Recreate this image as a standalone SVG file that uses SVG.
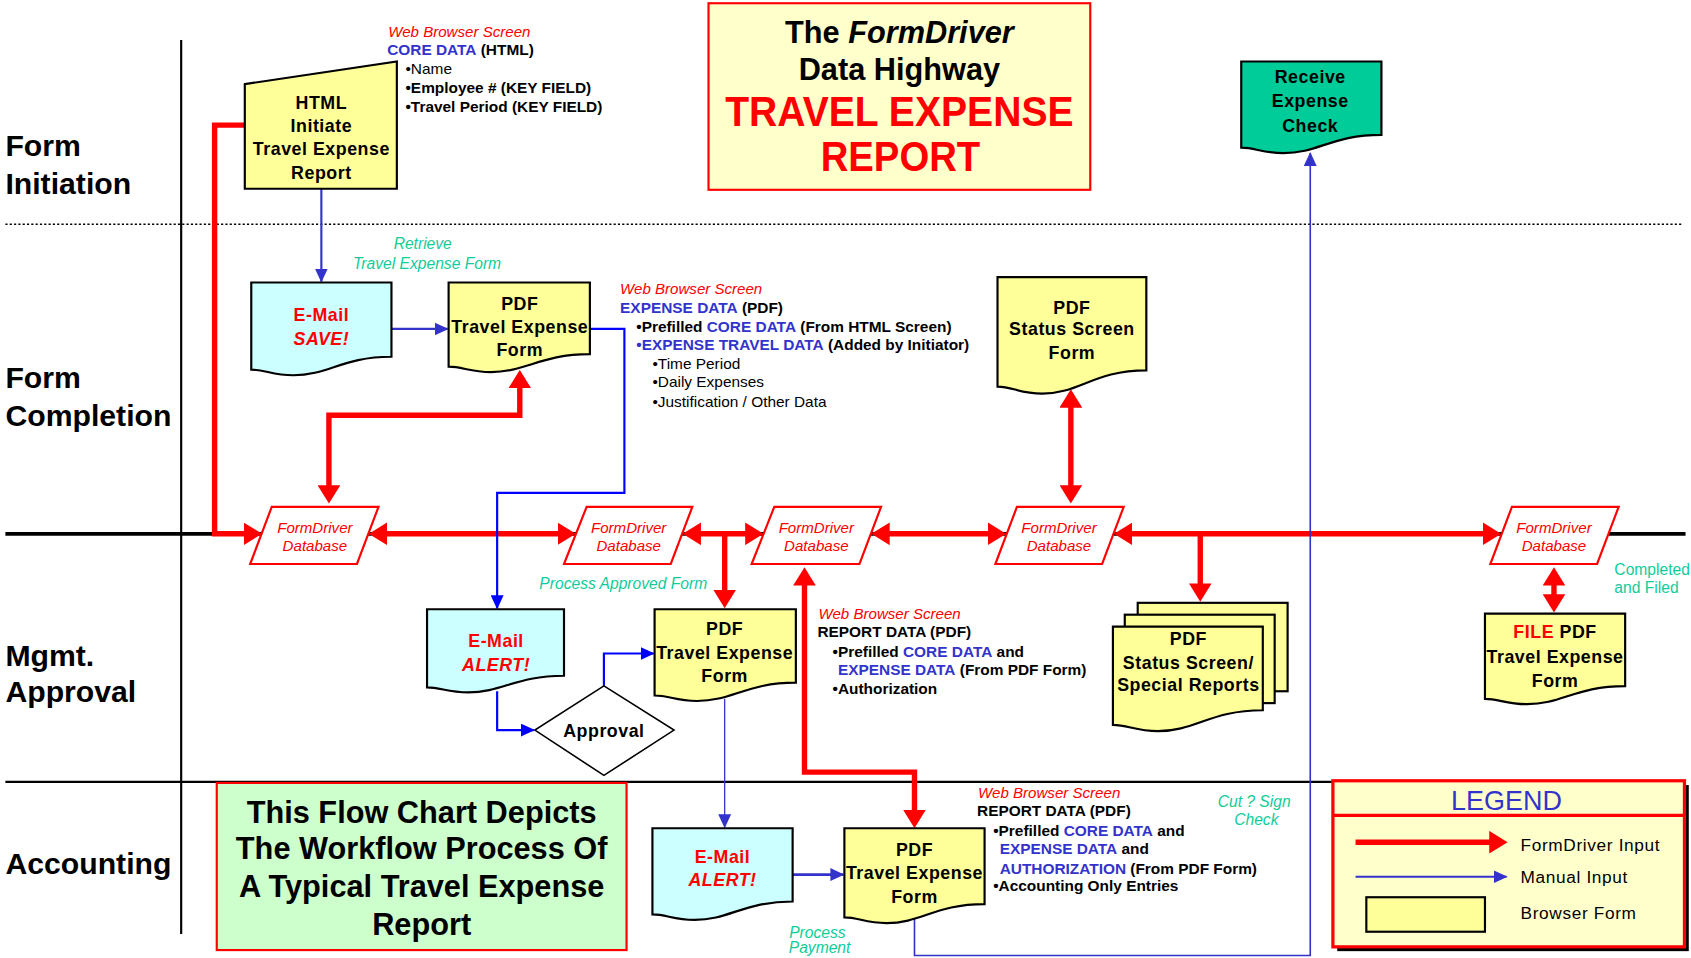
<svg xmlns="http://www.w3.org/2000/svg" width="1691" height="958" viewBox="0 0 1691 958">
<style>
text{font-family:'Liberation Sans',Arial,Helvetica,sans-serif}
.lane{font-size:28px;font-weight:bold;fill:#000}
.nt{font-size:16.5px;font-weight:bold;text-anchor:middle;letter-spacing:0.5px;fill:#000}
.red{fill:#FF0000}
.db{font-size:14px;font-style:italic;fill:#FF0000;text-anchor:middle}
.wbs{font-size:14px;font-style:italic;fill:#FF0000}
.ab{font-size:14.3px;font-weight:bold;fill:#000}
.ar{font-size:14.3px;fill:#000}
.bl{fill:#3333CC}
.gr{font-size:14.5px;font-style:italic;fill:#11CC99;text-anchor:middle}
.doc{fill:#FFFF99;stroke:#000;stroke-width:2}
.mail{fill:#CCFFFF;stroke:#000;stroke-width:2}
.dbs{fill:#fff;stroke:#FF0000;stroke-width:2}
.rl{fill:none;stroke:#FF0000;stroke-width:5}
.bln{fill:none;stroke:#3333CC;stroke-width:2}
.bpn{fill:none;stroke:#0000FF;stroke-width:2}
</style>
<defs>
<marker id="ar" viewBox="0 0 17 21" refX="12" refY="10.5" markerWidth="17" markerHeight="21" markerUnits="userSpaceOnUse" orient="auto-start-reverse"><path d="M0,0 L17,10.5 L0,21 Z" fill="#FF0000"/></marker>
<marker id="ab" viewBox="0 0 13 12" refX="12" refY="6" markerWidth="13" markerHeight="12" markerUnits="userSpaceOnUse" orient="auto-start-reverse"><path d="M0,0 L13,6 L0,12 Z" fill="#3333CC"/></marker>
<marker id="ap" viewBox="0 0 13 12" refX="12" refY="6" markerWidth="13" markerHeight="12" markerUnits="userSpaceOnUse" orient="auto-start-reverse"><path d="M0,0 L13,6 L0,12 Z" fill="#0000FF"/></marker>
</defs>
<rect width="1691" height="958" fill="#fff"/>
<g transform="scale(1.0784)">
<g id="lanes">
<line x1="5" y1="208" x2="1560" y2="208" stroke="#000" stroke-width="1.3" stroke-dasharray="2,2"/>
<line x1="168" y1="37" x2="168" y2="866" stroke="#000" stroke-width="2"/>
<line x1="5" y1="495" x2="1563" y2="495" stroke="#000" stroke-width="3.5"/>
<line x1="5" y1="725" x2="1236" y2="725" stroke="#000" stroke-width="2"/>
<text class="lane" x="5" y="145">Form</text>
<text class="lane" x="5" y="180">Initiation</text>
<text class="lane" x="5" y="360">Form</text>
<text class="lane" x="5" y="395">Completion</text>
<text class="lane" x="5" y="618">Mgmt.</text>
<text class="lane" x="5" y="651">Approval</text>
<text class="lane" x="5" y="810">Accounting</text>
</g>
<g id="title">
<rect x="657" y="3" width="354" height="173" fill="#FFFFCC" stroke="#FF0000" stroke-width="2"/>
<text x="834" y="40" text-anchor="middle" font-size="28.5" font-weight="bold">The <tspan font-style="italic">FormDriver</tspan></text>
<text x="834" y="74" text-anchor="middle" font-size="28.5" font-weight="bold">Data Highway</text>
<text x="834" y="117" text-anchor="middle" font-size="40" font-weight="bold" fill="#FF0000" textLength="323" lengthAdjust="spacingAndGlyphs">TRAVEL EXPENSE</text>
<text x="835" y="159" text-anchor="middle" font-size="40" font-weight="bold" fill="#FF0000" textLength="148" lengthAdjust="spacingAndGlyphs">REPORT</text>
</g>
<g id="connectors">
<path class="rl" d="M227,116 H199 V495 H238" marker-end="url(#ar)"/>
<path class="rl" d="M347,495 H529" marker-start="url(#ar)" marker-end="url(#ar)"/>
<path class="rl" d="M638,495 H703" marker-start="url(#ar)" marker-end="url(#ar)"/>
<path class="rl" d="M672,495 V559" marker-end="url(#ar)"/>
<path class="rl" d="M813,495 H928" marker-start="url(#ar)" marker-end="url(#ar)"/>
<path class="rl" d="M1038,495 H1387" marker-start="url(#ar)" marker-end="url(#ar)"/>
<path class="rl" d="M1113,495 V553" marker-end="url(#ar)"/>
<path class="rl" d="M482,348 V385 H305 V462" marker-start="url(#ar)" marker-end="url(#ar)"/>
<path class="rl" d="M993,366 V462" marker-start="url(#ar)" marker-end="url(#ar)"/>
<path class="rl" d="M848,763 V716 H746 V531" marker-start="url(#ar)" marker-end="url(#ar)"/>
<path class="rl" d="M1441,531 V563" marker-start="url(#ar)" marker-end="url(#ar)"/>
<path class="bln" d="M298,175 V261" marker-end="url(#ab)"/>
<path class="bln" d="M363,305 H415" marker-end="url(#ab)"/>
<path class="bpn" d="M547,305 H579 V457 H461 V564" marker-end="url(#ap)"/>
<path class="bpn" d="M461,641 V677 H495" marker-end="url(#ap)"/>
<path class="bpn" d="M560,636 V606 H606" marker-end="url(#ap)"/>
<path class="bln" style="stroke-width:1.2" d="M672,648 V767" marker-end="url(#ab)"/>
<path class="bln" style="stroke-width:2.5" d="M735,811 H782" marker-end="url(#ab)"/>
<path class="bln" style="stroke-width:1.5" d="M848,852 V886 H1215 V142" marker-end="url(#ab)"/>
</g>
<g id="html-initiate">
<polygon points="227,78 368,57 368,175 227,175" fill="#FFFF99" stroke="#000" stroke-width="2"/>
<text class="nt" x="298" y="101">HTML</text>
<text class="nt" x="298" y="122">Initiate</text>
<text class="nt" x="298" y="144">Travel Expense</text>
<text class="nt" x="298" y="166">Report</text>
</g>
<g id="ann-core">
<text class="wbs" x="360" y="34">Web Browser Screen</text>
<text class="ab" x="359" y="51"><tspan class="bl">CORE DATA</tspan> (HTML)</text>
<text class="ar" x="376" y="69">•Name</text>
<text class="ab" x="376" y="86">•Employee # (KEY FIELD)</text>
<text class="ab" x="376" y="104">•Travel Period (KEY FIELD)</text>
</g>
<g id="receive-check">
<path d="M1151,57 H1281 V125 C1235.5,125 1222.5,142 1190,142 C1170.5,142 1164,136.9 1151,136.9 Z" fill="#00CC99" stroke="#000" stroke-width="2"/>
<text class="nt" x="1215" y="77">Receive</text>
<text class="nt" x="1215" y="99">Expense</text>
<text class="nt" x="1215" y="122">Check</text>
</g>
<g id="lbl-retrieve">
<text class="gr" x="392" y="231">Retrieve</text>
<text class="gr" x="396" y="249">Travel Expense Form</text>
</g>
<g id="email-save">
<path class="mail" d="M233,262 H363 V330.8 C317.5,330.8 304.5,348 272,348 C252.5,348 246,342.8 233,342.8 Z"/>
<text class="nt red" x="298" y="298">E-Mail</text>
<text class="nt red" x="298" y="320" font-style="italic">SAVE!</text>
</g>
<g id="pdf-completion">
<path class="doc" d="M416,262 H547 V328.4 C501.2,328.4 488.1,345 455.3,345 C435.7,345 429.1,340 416,340 Z"/>
<text class="nt" x="482" y="287">PDF</text>
<text class="nt" x="482" y="309">Travel Expense</text>
<text class="nt" x="482" y="330">Form</text>
</g>
<g id="ann-expense">
<text class="wbs" x="575" y="273">Web Browser Screen</text>
<text class="ab" x="575" y="290"><tspan class="bl">EXPENSE DATA</tspan> (PDF)</text>
<text class="ab" x="590" y="308">•Prefilled  <tspan class="bl">CORE DATA</tspan>  (From HTML Screen)</text>
<text class="ab" x="590" y="325"><tspan class="bl">•EXPENSE TRAVEL DATA</tspan> (Added by Initiator)</text>
<text class="ar" x="605" y="342">•Time Period</text>
<text class="ar" x="605" y="359">•Daily Expenses</text>
<text class="ar" x="605" y="377">•Justification / Other Data</text>
</g>
<g id="pdf-status">
<path class="doc" d="M925,257 H1063 V343.4 C1014.7,343.4 1000.9,365 966.4,365 C945.7,365 938.8,358.5 925,358.5 Z"/>
<text class="nt" x="994" y="291">PDF</text>
<text class="nt" x="994" y="311">Status Screen</text>
<text class="nt" x="994" y="333">Form</text>
</g>
<g id="db1">
<polygon class="dbs" points="252,470 351,470 331,523 232,523"/>
<text class="db" x="292" y="494">FormDriver</text>
<text class="db" x="292" y="511">Database</text>
</g>
<g id="db2">
<polygon class="dbs" points="544,470 642,470 622,523 523,523"/>
<text class="db" x="583" y="494">FormDriver</text>
<text class="db" x="583" y="511">Database</text>
</g>
<g id="db3">
<polygon class="dbs" points="718,470 817,470 797,523 697,523"/>
<text class="db" x="757" y="494">FormDriver</text>
<text class="db" x="757" y="511">Database</text>
</g>
<g id="db4">
<polygon class="dbs" points="943,470 1042,470 1022,523 923,523"/>
<text class="db" x="982" y="494">FormDriver</text>
<text class="db" x="982" y="511">Database</text>
</g>
<g id="db5">
<polygon class="dbs" points="1402,470 1501,470 1481,523 1382,523"/>
<text class="db" x="1441" y="494">FormDriver</text>
<text class="db" x="1441" y="511">Database</text>
</g>
<g id="lbl-process-approved">
<text class="gr" x="578" y="546">Process Approved Form</text>
</g>
<g id="email-alert-mgmt">
<path class="mail" d="M396,565 H523 V626.6 C478.6,626.6 465.9,642 434.1,642 C415.1,642 408.7,637.4 396,637.4 Z"/>
<text class="nt red" x="460" y="600">E-Mail</text>
<text class="nt red" x="460" y="622" font-style="italic">ALERT!</text>
</g>
<g id="approval">
<polygon points="560,636 625,677 560,719 496,677" fill="#fff" stroke="#000" stroke-width="1.5"/>
<text class="nt" x="560" y="683">Approval</text>
</g>
<g id="pdf-mgmt">
<path class="doc" d="M607,565 H738 V633 C692.2,633 679.1,650 646.3,650 C626.7,650 620.1,644.9 607,644.9 Z"/>
<text class="nt" x="672" y="589">PDF</text>
<text class="nt" x="672" y="611">Travel Expense</text>
<text class="nt" x="672" y="632">Form</text>
</g>
<g id="ann-report">
<text class="wbs" x="759" y="574">Web Browser Screen</text>
<text class="ab" x="758" y="591">REPORT DATA (PDF)</text>
<text class="ab" x="772" y="609">•Prefilled <tspan class="bl">CORE DATA</tspan> and</text>
<text class="ab" x="777" y="626"><tspan class="bl">EXPENSE DATA</tspan> (From PDF Form)</text>
<text class="ab" x="772" y="644">•Authorization</text>
</g>
<g id="status-reports">
<rect class="doc" x="1055" y="559" width="139" height="82"/>
<rect class="doc" x="1043" y="570" width="139" height="82"/>
<path class="doc" d="M1032,581 H1171 V658.6 C1122.4,658.6 1108.5,678 1073.7,678 C1052.9,678 1045.9,672.2 1032,672.2 Z"/>
<text class="nt" x="1102" y="598">PDF</text>
<text class="nt" x="1102" y="620">Status Screen/</text>
<text class="nt" x="1102" y="641">Special Reports</text>
</g>
<g id="file-pdf">
<path class="doc" d="M1377,569 H1507 V636.2 C1461.5,636.2 1448.5,653 1416,653 C1396.5,653 1390,648 1377,648 Z"/>
<text class="nt" x="1442" y="592"><tspan fill="#FF0000">FILE</tspan> PDF</text>
<text class="nt" x="1442" y="615">Travel Expense</text>
<text class="nt" x="1442" y="637">Form</text>
</g>
<g id="lbl-completed">
<text x="1497" y="533" font-size="14.5" fill="#11CC99">Completed</text>
<text x="1497" y="550" font-size="14.5" fill="#11CC99">and Filed</text>
</g>
<g id="note">
<rect x="201" y="726" width="380" height="155" fill="#CCFFCC" stroke="#FF0000" stroke-width="2"/>
<text x="391" y="763" text-anchor="middle" font-size="28.5" font-weight="bold">This Flow Chart Depicts</text>
<text x="391" y="797" text-anchor="middle" font-size="28.5" font-weight="bold">The Workflow Process Of</text>
<text x="391" y="832" text-anchor="middle" font-size="28.5" font-weight="bold">A Typical Travel Expense</text>
<text x="391" y="867" text-anchor="middle" font-size="28.5" font-weight="bold">Report</text>
</g>
<g id="email-alert-acct">
<path class="mail" d="M605,768 H735 V836 C689.5,836 676.5,853 644,853 C624.5,853 618,847.9 605,847.9 Z"/>
<text class="nt red" x="670" y="800">E-Mail</text>
<text class="nt red" x="670" y="822" font-style="italic">ALERT!</text>
</g>
<g id="pdf-acct">
<path class="doc" d="M783,768 H913 V838.4 C867.5,838.4 854.5,856 822,856 C802.5,856 796,850.7 783,850.7 Z"/>
<text class="nt" x="848" y="794">PDF</text>
<text class="nt" x="848" y="815">Travel Expense</text>
<text class="nt" x="848" y="837">Form</text>
</g>
<g id="lbl-process-payment">
<text class="gr" x="758" y="870">Process</text>
<text class="gr" x="760" y="884">Payment</text>
</g>
<g id="ann-acct">
<text class="wbs" x="907" y="740">Web Browser Screen</text>
<text class="ab" x="906" y="757">REPORT DATA (PDF)</text>
<text class="ab" x="921" y="775">•Prefilled <tspan class="bl">CORE DATA</tspan> and</text>
<text class="ab" x="927" y="792"><tspan class="bl">EXPENSE DATA</tspan> and</text>
<text class="ab" x="927" y="810"><tspan class="bl">AUTHORIZATION</tspan> (From PDF Form)</text>
<text class="ab" x="921" y="826">•Accounting Only Entries</text>
</g>
<g id="lbl-cut-sign">
<text class="gr" x="1163" y="748">Cut ? Sign</text>
<text class="gr" x="1165" y="765">Check</text>
</g>
<g id="legend">
<rect x="1240" y="728" width="326" height="154" fill="#000"/>
<rect x="1236" y="724" width="326" height="154" fill="#FFFFCC" stroke="#FF0000" stroke-width="3"/>
<line x1="1236" y1="756" x2="1562" y2="756" stroke="#FF0000" stroke-width="3"/>
<text x="1397" y="751" text-anchor="middle" font-size="25" fill="#3333CC">LEGEND</text>
<path class="rl" d="M1257,781 H1393" marker-end="url(#ar)"/>
<text x="1410" y="789" font-size="16" letter-spacing="0.6">FormDriver Input</text>
<path class="bln" d="M1257,813 H1397" marker-end="url(#ab)"/>
<text x="1410" y="819" font-size="16" letter-spacing="0.6">Manual Input</text>
<rect x="1267" y="832" width="110" height="32" fill="#FFFF99" stroke="#000" stroke-width="2"/>
<text x="1410" y="852" font-size="16" letter-spacing="0.6">Browser Form</text>
</g>
</g>
</svg>
